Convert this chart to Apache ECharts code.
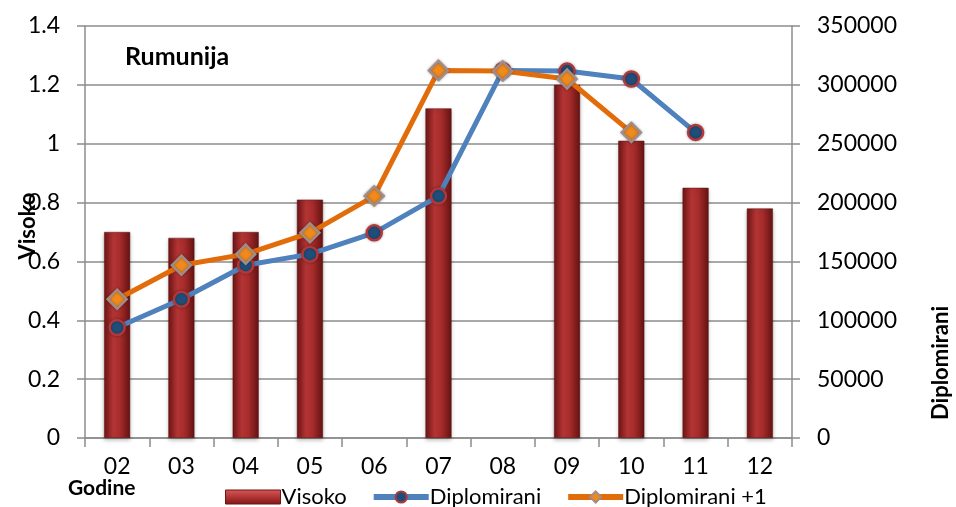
<!DOCTYPE html>
<html>
<head>
<meta charset="utf-8">
<script src="https://cdn.jsdelivr.net/npm/echarts@6/dist/echarts.min.js"></script>
<style>
  html, body { margin: 0; padding: 0; background: #fff; }
  #chart { width: 956px; height: 507px; }
</style>
</head>
<body>
<div id="chart"></div>
<script>
// Godine (years) on the category axis
const godine = ['02', '03', '04', '05', '06', '07', '08', '09', '10', '11', '12'];
// Visoko ratio (left axis)
const visoko = [0.70, 0.68, 0.70, 0.81, null, 1.12, null, 1.20, 1.01, 0.85, 0.78];
// Diplomirani (graduates, right axis)
const diplomirani = [93900, 117900, 146800, 156200, 174300, 205500, 312300, 311700, 305000, 259600, null];
// Diplomirani shifted one year ahead (right axis)
const diplomiraniPlus1 = [117900, 146800, 156200, 174300, 205500, 312300, 311700, 305000, 259600, null, null];
// Axis tick settings
const leftTicks = { min: 0, max: 1.4, interval: 0.2 };
const rightTicks = { min: 0, max: 350000, interval: 50000 };

const FONT = 'Lato, "Liberation Sans", sans-serif';
const grey = '#8c8c8c';

const chart = echarts.init(document.getElementById('chart'), null, { renderer: 'canvas' });

const barFill = new echarts.graphic.LinearGradient(0, 0, 1, 0, [
  { offset: 0, color: '#6e1414' },
  { offset: 0.35, color: '#b33434' },
  { offset: 0.6, color: '#a82c2c' },
  { offset: 1, color: '#651313' }
]);
const legendBarFill = new echarts.graphic.LinearGradient(0, 0, 0, 1, [
  { offset: 0, color: '#d65a5a' },
  { offset: 0.5, color: '#b33434' },
  { offset: 1, color: '#7a1818' }
]);

chart.setOption({
  animation: false,
  backgroundColor: '#fff',
  textStyle: { fontFamily: FONT },
  grid: { left: 85, right: 164, top: 26, bottom: 69 },
  legend: {
    left: 220, top: 481,
    itemWidth: 55, itemHeight: 14, itemGap: 24,
    textStyle: { fontFamily: FONT, fontSize: 22, color: '#000', padding: [0, 0, 0, -4] },
    data: [
      { name: 'Visoko', icon: 'rect', itemStyle: { color: legendBarFill, borderColor: '#6e1414', borderWidth: 1 } },
      { name: 'Diplomirani', lineStyle: { width: 6 } },
      { name: 'Diplomirani +1', lineStyle: { width: 6 } }
    ]
  },
  graphic: [
    { type: 'text', left: 125, top: 44,
      style: { text: 'Rumunija', font: 'bold 25px ' + FONT, fill: '#000' } },
    { type: 'text', left: 68, top: 478,
      style: { text: 'Godine', font: 'bold 21px ' + FONT, fill: '#000' } },
    { type: 'text', x: 28, y: 226, rotation: Math.PI / 2,
      style: { text: 'Visoko', font: 'bold 22px ' + FONT, fill: '#000', align: 'center', verticalAlign: 'middle' } },
    { type: 'text', x: 941, y: 363, rotation: Math.PI / 2,
      style: { text: 'Diplomirani', font: 'bold 22px ' + FONT, fill: '#000', align: 'center', verticalAlign: 'middle' } }
  ],
  xAxis: {
    type: 'category',
    data: godine,
    boundaryGap: true,
    axisLine: { lineStyle: { color: grey, width: 1.5 } },
    axisTick: { show: true, length: 9, lineStyle: { color: grey, width: 1.5 } },
    axisLabel: { fontFamily: FONT, fontSize: 23, color: '#000', margin: 17 }
  },
  yAxis: [
    {
      type: 'value', min: leftTicks.min, max: leftTicks.max, interval: leftTicks.interval,
      axisLine: { show: true, lineStyle: { color: grey, width: 1.5 } },
      axisTick: { show: true, length: 8, lineStyle: { color: grey, width: 1.5 } },
      splitLine: { show: true, lineStyle: { color: grey, width: 1.5 } },
      axisLabel: { fontFamily: FONT, fontSize: 23, color: '#000', margin: 25,
        formatter: v => String(Math.round(v * 10) / 10) }
    },
    {
      type: 'value', min: rightTicks.min, max: rightTicks.max, interval: rightTicks.interval,
      position: 'right',
      axisLine: { show: true, lineStyle: { color: grey, width: 1.5 } },
      axisTick: { show: true, length: 8, lineStyle: { color: grey, width: 1.5 } },
      splitLine: { show: false },
      axisLabel: { fontFamily: FONT, fontSize: 23, color: '#000', margin: 25,
        formatter: v => String(v) }
    }
  ],
  series: [
    {
      name: 'Visoko', type: 'bar', yAxisIndex: 0, data: visoko, barWidth: 26,
      itemStyle: { color: barFill, borderColor: '#5c1010', borderWidth: 0.5,
        shadowColor: 'rgba(0,0,0,0.25)', shadowBlur: 4, shadowOffsetY: 2 }
    },
    {
      name: 'Diplomirani', type: 'line', yAxisIndex: 1, data: diplomirani,
      symbol: 'circle', symbolSize: 15,
      lineStyle: { color: '#4f81bd', width: 5 },
      itemStyle: { color: '#1f4e7a', borderColor: '#b0383a', borderWidth: 2.5,
        shadowColor: 'rgba(0,0,0,0.3)', shadowBlur: 3 },
      z: 3
    },
    {
      name: 'Diplomirani +1', type: 'line', yAxisIndex: 1, data: diplomiraniPlus1,
      symbol: 'diamond', symbolSize: 19,
      lineStyle: { color: '#e36c0a', width: 5 },
      itemStyle: { color: '#f08a1c', borderColor: '#a08c88', borderWidth: 2.5,
        shadowColor: 'rgba(0,0,0,0.3)', shadowBlur: 3 },
      z: 4
    }
  ]
});
</script>
</body>
</html>
